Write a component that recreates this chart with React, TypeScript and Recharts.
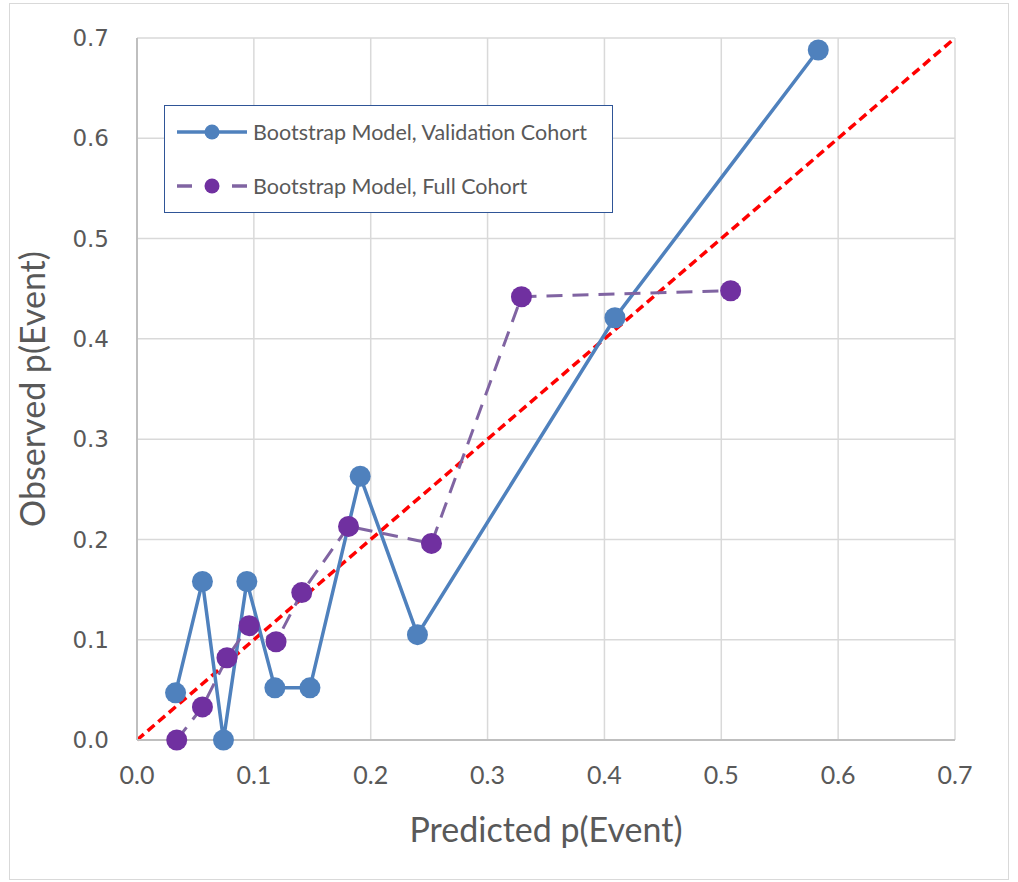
import { ComposedChart, Line, XAxis, YAxis, CartesianGrid } from "recharts";

const ticks = [0, 0.1, 0.2, 0.3, 0.4, 0.5, 0.6, 0.7];

// Bootstrap Model, Validation Cohort
const validationX = [0.033, 0.056, 0.074, 0.094, 0.118, 0.148, 0.191, 0.240, 0.409, 0.583];
const validationY = [0.047, 0.158, 0.0, 0.158, 0.052, 0.052, 0.263, 0.105, 0.421, 0.688];

// Bootstrap Model, Full Cohort
const fullX = [0.034, 0.056, 0.077, 0.096, 0.119, 0.141, 0.181, 0.252, 0.329, 0.508];
const fullY = [0.0, 0.033, 0.082, 0.114, 0.098, 0.147, 0.213, 0.196, 0.442, 0.448];

// perfect calibration line
const diagX = [0, 0.7];
const diagY = [0, 0.7];

const toPoints = (xs: number[], ys: number[]) => xs.map((x, i) => ({ x, y: ys[i] }));

const validationData = toPoints(validationX, validationY);
const fullData = toPoints(fullX, fullY);
const diagData = toPoints(diagX, diagY);

const BLUE = "#4F81BD";
const PURPLE_DOT = "#7030A0";
const PURPLE_LINE = "#8064A2";
const FONT = "Lato, 'Open Sans', sans-serif";

function LegendBox() {
  const text = { fontFamily: FONT, fontSize: 21.5, fill: "#595959" };
  return (
    <div
      style={{
        position: "absolute",
        left: 164,
        top: 105,
        width: 449,
        height: 108,
        border: "1.5px solid #2F5597",
        background: "#fff",
        boxSizing: "border-box",
      }}
    >
      <svg width={446} height={105} style={{ display: "block" }}>
        <line x1={12} y1={26} x2={82} y2={26} stroke={BLUE} strokeWidth={3.5} />
        <circle cx={47} cy={26} r={7.5} fill={BLUE} />
        <text x={88} y={34} {...text}>Bootstrap Model, Validation Cohort</text>
        <line x1={12} y1={80} x2={27} y2={80} stroke={PURPLE_LINE} strokeWidth={3.5} />
        <line x1={67} y1={80} x2={82} y2={80} stroke={PURPLE_LINE} strokeWidth={3.5} />
        <circle cx={47} cy={80} r={7.5} fill={PURPLE_DOT} />
        <text x={88} y={88} {...text}>Bootstrap Model, Full Cohort</text>
      </svg>
    </div>
  );
}

export default function App() {
  return (
    <div style={{ position: "absolute", left: 0, top: 0, width: 1018, height: 882, background: "#fff" }}>
      <div
        style={{
          position: "absolute",
          left: 9,
          top: 3,
          width: 1000,
          height: 877,
          border: "1px solid #d9d9d9",
          boxSizing: "border-box",
        }}
      />
      <ComposedChart
        width={1018}
        height={882}
        margin={{ top: 38, right: 63, left: 77, bottom: 82 }}
      >
        <CartesianGrid stroke="#d9d9d9" strokeWidth={1.5} horizontalValues={ticks} verticalValues={ticks} />
        <XAxis
          dataKey="x"
          type="number"
          domain={[0, 0.7]}
          ticks={ticks}
          allowDuplicatedCategory={false}
          tickFormatter={(v: number) => v.toFixed(1)}
          tickLine={false}
          axisLine={{ stroke: "#bfbfbf", strokeWidth: 2 }}
          tick={{ fontFamily: FONT, fontSize: 25, fill: "#595959", dy: 18 }}
          height={60}
          label={{
            value: "Predicted p(Event)",
            position: "insideBottom",
            offset: -42,
            style: { fontFamily: FONT, fontSize: 34, fill: "#595959" },
          }}
        />
        <YAxis
          dataKey="y"
          type="number"
          domain={[0, 0.7]}
          ticks={ticks}
          interval={0}
          tickFormatter={(v: number) => v.toFixed(1)}
          tickLine={false}
          axisLine={{ stroke: "#bfbfbf", strokeWidth: 2 }}
          tick={{ fontFamily: "'DejaVu Sans', Verdana, sans-serif", fontSize: 23, fill: "#595959", dx: -20 }}
          width={60}
          label={{
            value: "Observed p(Event)",
            angle: -90,
            position: "insideLeft",
            offset: -44,
            style: { textAnchor: "middle", fontFamily: FONT, fontSize: 34, fill: "#595959" },
          }}
        />
        <Line
          data={diagData}
          dataKey="y"
          type="linear"
          stroke="#FF0000"
          strokeWidth={3.5}
          strokeDasharray="9 5"
          dot={false}
          activeDot={false}
          legendType="none"
          isAnimationActive={false}
        />
        <Line
          data={validationData}
          dataKey="y"
          name="Bootstrap Model, Validation Cohort"
          type="linear"
          stroke={BLUE}
          strokeWidth={3.5}
          dot={{ r: 10.5, fill: BLUE, stroke: BLUE, strokeWidth: 0 }}
          activeDot={false}
          isAnimationActive={false}
        />
        <Line
          data={fullData}
          dataKey="y"
          name="Bootstrap Model, Full Cohort"
          type="linear"
          stroke={PURPLE_LINE}
          strokeWidth={3}
          strokeDasharray="16 10"
          dot={{ r: 10.5, fill: PURPLE_DOT, stroke: PURPLE_DOT, strokeWidth: 0, strokeDasharray: "0" }}
          activeDot={false}
          isAnimationActive={false}
        />
      </ComposedChart>
      <LegendBox />
    </div>
  );
}
